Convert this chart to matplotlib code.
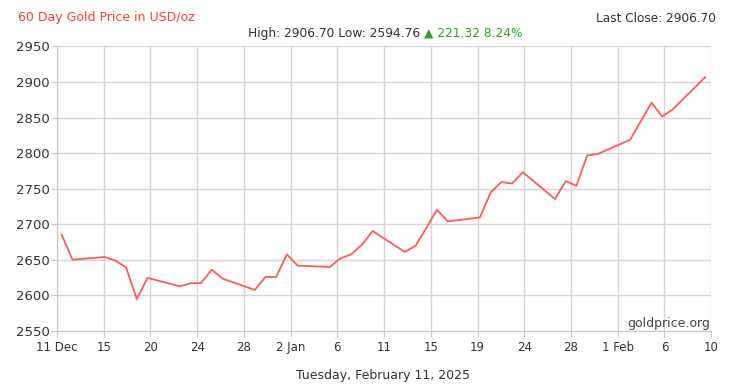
import numpy as np
import pandas as pd
import matplotlib
matplotlib.use("Agg")
import matplotlib.pyplot as plt
import matplotlib.dates as mdates

# Precio diario del oro (USD/oz), dias habiles
fechas = pd.bdate_range("2024-12-12", "2025-02-10")
precios = [
    2685.4, 2650.3, 2654.1, 2649.0, 2639.5, 2594.76, 2624.7,
    2612.9, 2617.0, 2617.6, 2636.3, 2623.7,
    2607.8, 2626.0, 2626.0, 2657.8, 2641.9,
    2640.1, 2652.2, 2657.8, 2671.4, 2690.6,
    2661.1, 2670.0, 2695.0, 2720.5, 2704.1,
    2709.7, 2744.8, 2759.4, 2757.4, 2773.4,
    2735.5, 2760.8, 2754.2, 2796.7, 2799.1,
    2818.8, 2845.0, 2871.0, 2851.5, 2861.9,
    2906.70,
]
etiquetas_x = ["11 Dec", "15", "20", "24", "28", "2 Jan", "6", "11",
               "15", "19", "24", "28", "1 Feb", "6", "10"]
ticks_y = [2550, 2600, 2650, 2700, 2750, 2800, 2850, 2900, 2950]

gris = "#333333"
fig = plt.figure(figsize=(7.4, 3.89), dpi=100)
ax = fig.add_axes([0.077, 0.149, 0.884, 0.7315])

x = mdates.date2num(fechas)
ax.plot(x, precios, color="#ff5a5a", lw=1.3)

x0 = x[0] - 0.44
x1 = x0 + 61
ax.set_xlim(x0, x1)
ax.set_ylim(2550, 2950)
ax.set_xticks(np.linspace(x0, x1, len(etiquetas_x)))
ax.set_xticklabels(etiquetas_x)
ax.set_yticks(ticks_y)

ax.grid(True, color="#d4d4d4", lw=1)
for s in ["top", "right"]:
    ax.spines[s].set_visible(False)
for s in ["left", "bottom"]:
    ax.spines[s].set_color("#c8c8c8")
ax.tick_params(axis="both", colors="#c8c8c8", labelcolor=gris, length=4,
               labelsize=8.5)
ax.tick_params(axis="y", labelsize=9.5, pad=1)

ax.text(0.998, 0.004, "goldprice.org", transform=ax.transAxes, ha="right",
        va="bottom", fontsize=9, color="#444444")

fig.text(18 / 740, 1 - 17 / 389, "60 Day Gold Price in USD/oz", color="#ff3b3b",
         fontsize=9, va="center", ha="left")
fig.text(716 / 740, 1 - 19 / 389, "Last Close: 2906.70", color=gris,
         fontsize=8.7, va="center", ha="right")
t = fig.text(248 / 740, 1 - 33 / 389, "High: 2906.70 Low: 2594.76 ", color=gris,
             fontsize=8.8, va="center", ha="left")
fig.canvas.draw()
bb = t.get_window_extent()
fig.text(bb.x1 / 740, 1 - 33 / 389, "\u25b2 221.32 8.24%", color="#2e9e2e",
         fontsize=8.8, va="center", ha="left")
fig.text(383 / 740, 1 - 375 / 389, "Tuesday, February 11, 2025", color=gris,
         fontsize=9, va="center", ha="center")

fig.savefig("out.png", dpi=100, facecolor="white")
